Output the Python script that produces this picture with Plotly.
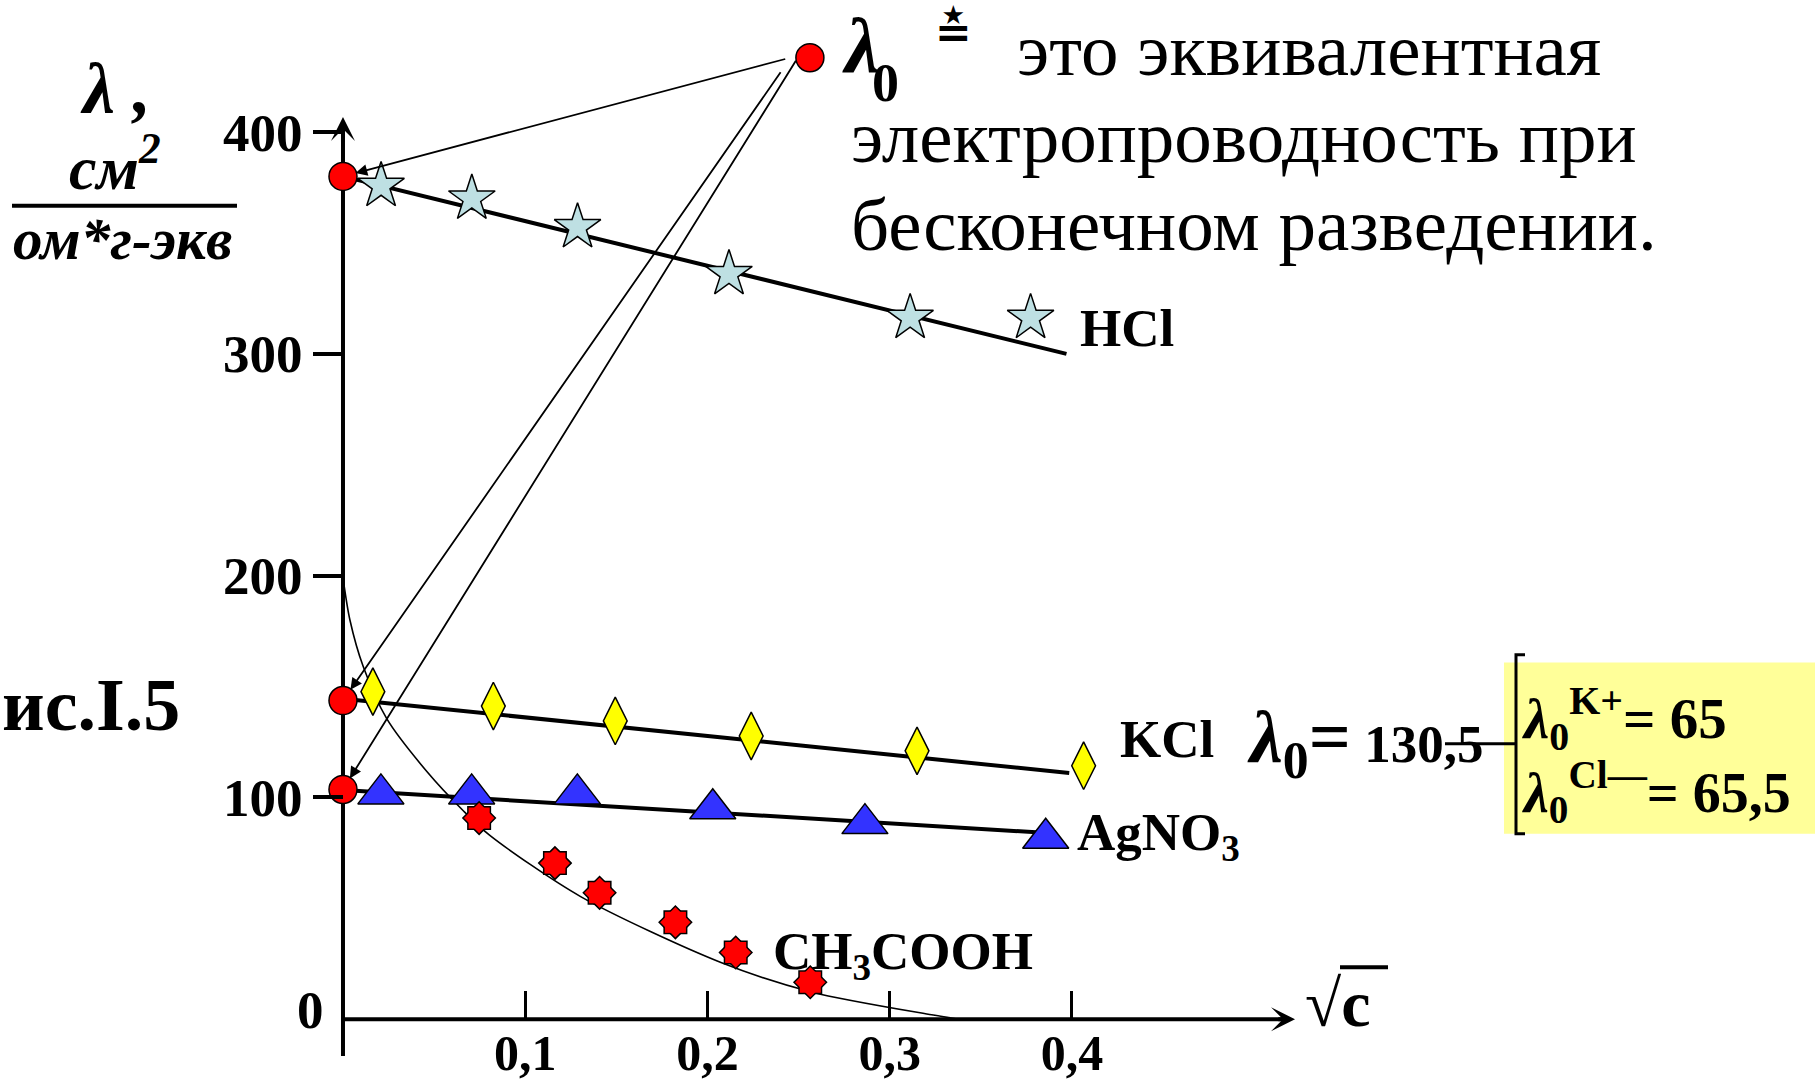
import plotly.graph_objects as go

# ---------------- data ----------------
hcl_x = [0.0209, 0.0707, 0.1287, 0.2118, 0.3112, 0.3773]
hcl_y = [375.7, 370.0, 357.1, 336.0, 316.2, 316.2]
kcl_x = [0.0164, 0.0825, 0.1494, 0.2240, 0.3150, 0.4064]
kcl_y = [147.7, 141.2, 134.5, 127.7, 121.0, 114.3]
agno3_x = [0.0208, 0.0706, 0.1286, 0.2029, 0.2864, 0.3856]
agno3_y = [101.6, 101.6, 101.6, 94.9, 88.2, 81.6]
ch3cooh_x = [0.0747, 0.1163, 0.1408, 0.1824, 0.2155, 0.2564]
ch3cooh_y = [90.7, 70.4, 57.0, 43.7, 30.1, 16.7]

# fitted straight lines (start at lambda0 on the axis)
hcl_fit_x = [0.0, 0.397]
hcl_fit_y = [380.0, 300.0]
kcl_fit_x = [0.0, 0.3985]
kcl_fit_y = [144.5, 111.0]
agno3_fit_x = [0.0, 0.3825]
agno3_fit_y = [103.3, 84.2]

# thin curve for the weak electrolyte
ch3cooh_curve_x = [0.0, 0.0038, 0.0111, 0.024, 0.0459, 0.066, 0.0804, 0.1304, 0.2074, 0.2575, 0.323, 0.338]
ch3cooh_curve_y = [199.0, 180.0, 159.0, 135.5, 111.8, 94.0, 83.0, 55.3, 25.6, 12.2, 2.0, 0.0]

# lambda0 points (HCl, KCl, AgNO3) and the explanatory point
lambda0_x = [0.0, 0.0, 0.0]
lambda0_y = [380.0, 143.7, 103.6]
legend_pt_x = [0.2562]
legend_pt_y = [433.5]
# tails of the pointer arrows (near the explanatory point)
arrow_tail_x = [0.2435, 0.2407, 0.2490]
arrow_tail_y = [433.1, 427.6, 432.8]

x_tick_vals = [0.1, 0.2, 0.3, 0.4]
x_tick_text = ["0,1", "0,2", "0,3", "0,4"]
y_tick_vals = [100, 200, 300, 400]
y_tick_text = ["100", "200", "300", "400"]
origin_label = "0"

x_axis_end = 0.5224
y_axis_top = 406.8
y_axis_bottom = -16.6

# ---------------- geometry ----------------
W, H = 1820, 1081
X_RANGE = [-0.18821, 0.81047]
Y_RANGE = [-22.43, 459.52]
FONT = "Liberation Serif"


def px(x):
    return x / W


def py(y):
    return 1 - y / H


fig = go.Figure()

line_black = dict(color="black", width=4)
fig.add_trace(go.Scatter(x=ch3cooh_curve_x, y=ch3cooh_curve_y, mode="lines",
                         line=dict(color="black", width=1.6, shape="spline", smoothing=0.8),
                         hoverinfo="skip"))
fig.add_trace(go.Scatter(x=hcl_fit_x, y=hcl_fit_y, mode="lines", line=line_black, hoverinfo="skip"))
fig.add_trace(go.Scatter(x=kcl_fit_x, y=kcl_fit_y, mode="lines", line=line_black, hoverinfo="skip"))
fig.add_trace(go.Scatter(x=agno3_fit_x, y=agno3_fit_y, mode="lines", line=line_black, hoverinfo="skip"))

outline = dict(color="black", width=1.5)
fig.add_trace(go.Scatter(x=hcl_x, y=hcl_y, mode="markers", name="HCl", cliponaxis=False,
                         marker=dict(symbol="star", size=35, color="#BEE0E3", line=outline)))
fig.add_trace(go.Scatter(x=kcl_x, y=kcl_y, mode="markers", name="KCl", cliponaxis=False,
                         marker=dict(symbol="diamond-tall", size=34, color="#FFFF00", line=outline)))
fig.add_trace(go.Scatter(x=agno3_x, y=agno3_y, mode="markers", name="AgNO3", cliponaxis=False,
                         marker=dict(symbol="triangle-up", size=40, color="#3333FF", line=outline)))
# 8-point star built from a square and a diamond
fig.add_trace(go.Scatter(x=ch3cooh_x, y=ch3cooh_y, mode="markers", name="CH3COOH", cliponaxis=False,
                         marker=dict(symbol="square", size=22, color="#FF0000",
                                     line=dict(color="black", width=2))))
fig.add_trace(go.Scatter(x=ch3cooh_x, y=ch3cooh_y, mode="markers", cliponaxis=False, showlegend=False,
                         marker=dict(symbol="diamond", size=25, color="#FF0000",
                                     line=dict(color="black", width=1.5))))
fig.add_trace(go.Scatter(x=ch3cooh_x, y=ch3cooh_y, mode="markers", cliponaxis=False, showlegend=False,
                         marker=dict(symbol="square", size=21, color="#FF0000", line=dict(width=0))))
fig.add_trace(go.Scatter(x=lambda0_x + legend_pt_x, y=lambda0_y + legend_pt_y, mode="markers",
                         cliponaxis=False,
                         marker=dict(symbol="circle", size=28, color="#FF0000", line=outline)))

shapes = []
# axes lines
shapes.append(dict(type="line", xref="x", yref="y", x0=0, x1=0, y0=y_axis_bottom, y1=y_axis_top - 3,
                   line=dict(color="black", width=4), layer="below"))
shapes.append(dict(type="line", xref="x", yref="y", x0=0, x1=x_axis_end - 0.005, y0=0, y1=0,
                   line=dict(color="black", width=4), layer="below"))
# fraction bar of the y-axis unit
shapes.append(dict(type="line", xref="paper", yref="paper", x0=px(12), x1=px(237), y0=py(208), y1=py(208),
                   line=dict(color="black", width=4)))
# yellow box
shapes.append(dict(type="rect", xref="paper", yref="paper", x0=px(1504), x1=px(1815), y0=py(843), y1=py(670),
                   fillcolor="#FFFF99", line=dict(width=0), layer="below"))
# bracket
shapes.append(dict(type="path", xref="paper", yref="paper",
                   path=f"M{px(1525)},{py(662)} L{px(1516)},{py(662)} L{px(1516)},{py(843)} L{px(1525)},{py(843)}",
                   line=dict(color="black", width=3)))
# dash joining 130,5 with bracket
shapes.append(dict(type="line", xref="paper", yref="paper", x0=px(1445), x1=px(1516), y0=py(752), y1=py(752),
                   line=dict(color="black", width=3)))
# overline of sqrt(c)
shapes.append(dict(type="line", xref="paper", yref="paper", x0=px(1340), x1=px(1388), y0=py(978), y1=py(978),
                   line=dict(color="black", width=4)))

ann = []
# axis arrowheads
ann.append(dict(x=0, y=y_axis_top, ax=0, ay=y_axis_top - 12, xref="x", yref="y", axref="x", ayref="y",
                text="", showarrow=True, arrowhead=3, arrowsize=1.0, arrowwidth=4, arrowcolor="black"))
ann.append(dict(x=x_axis_end, y=0, ax=x_axis_end - 0.01, ay=0, xref="x", yref="y", axref="x", ayref="y",
                text="", showarrow=True, arrowhead=3, arrowsize=1.0, arrowwidth=4, arrowcolor="black"))
# pointer arrows to lambda0 values
for tx, ty, hx, hy in zip(arrow_tail_x, arrow_tail_y, lambda0_x, lambda0_y):
    ann.append(dict(x=hx, y=hy, ax=tx, ay=ty, xref="x", yref="y", axref="x", ayref="y",
                    text="", showarrow=True, arrowhead=2, arrowsize=1.3, arrowwidth=1.8,
                    arrowcolor="black", standoff=13))


def txt(text, x, y, size, xanchor="left", yanchor="middle", family=FONT):
    ann.append(dict(text=text, x=px(x), y=py(y), xref="paper", yref="paper", showarrow=False,
                    xanchor=xanchor, yanchor=yanchor,
                    font=dict(family=family, size=size, color="black")))


# y-axis unit
txt("<b><i>λ ,</i></b>", 116, 90, 72, xanchor="center")
txt("<b><i>см<sup>2</sup></i></b>", 115, 165, 62, xanchor="center")
txt("<b><i>ом*г-экв</i></b>", 122, 242, 59, xanchor="center")
# explanation
txt("<b><i>λ</i></b>", 840, 46, 78)
txt("<b>0</b>", 870, 84, 54)
txt("<b>≛</b>", 953, 2, 44, xanchor="center", yanchor="top", family="DejaVu Sans")
txt("это эквивалентная", 1015, 50, 75)
txt("электропроводность при", 849, 138, 75)
txt("бесконечном разведении.", 849, 227, 75)
# figure caption (cut by the left edge in the original)
txt("<b>ис.I.5</b>", 0, 713, 74, xanchor="left")
# series labels
txt("<b>HCl</b>", 1078, 332, 53)
txt("<b>KCl</b>", 1118, 747, 53)
txt("<b>AgNO<sub>3</sub></b>", 1075, 810, 53, yanchor="top")
txt("<b>CH<sub>3</sub>COOH</b>", 771, 930, 53, yanchor="top")
# KCl lambda0 decomposition
txt("<b><i>λ</i><sub>0</sub>=</b><b><span style='font-size:53px'> 130,5</span></b>", 1245, 702, 74,
    yanchor="top")
txt("<b><i>λ</i><sub>0</sub><sup>K+</sup>= 65</b>", 1520, 684, 57, yanchor="top")
txt("<b><i>λ</i><sub>0</sub><sup>Cl—</sup>= 65,5</b>", 1520, 759, 56, yanchor="top")
# x-axis title and origin
txt("√<b>c</b>", 1303, 1015, 66)
txt("<b>" + origin_label + "</b>", 310, 1021, 53, xanchor="center")

fig.update_layout(
    width=W, height=H, margin=dict(l=0, r=0, t=0, b=0, pad=0),
    paper_bgcolor="white", plot_bgcolor="white", showlegend=False,
    shapes=shapes, annotations=ann,
    xaxis=dict(range=X_RANGE, showgrid=False, zeroline=False, showline=False,
               anchor="free", position=(0 - Y_RANGE[0]) / (Y_RANGE[1] - Y_RANGE[0]),
               tickmode="array", tickvals=x_tick_vals, ticktext=x_tick_text,
               ticks="inside", ticklen=28, tickwidth=3, tickcolor="black",
               tickfont=dict(family=FONT, size=50, color="black", weight="bold")),
    yaxis=dict(range=Y_RANGE, showgrid=False, zeroline=False, showline=False,
               anchor="free", position=(0 - X_RANGE[0]) / (X_RANGE[1] - X_RANGE[0]),
               tickmode="array", tickvals=y_tick_vals, ticktext=y_tick_text,
               ticks="outside", ticklen=30, tickwidth=4, tickcolor="black",
               tickfont=dict(family=FONT, size=53, color="black", weight="bold")),
)

fig.write_html("out.html", config={"displayModeBar": False},
               post_script="document.body.style.margin='0px';document.body.style.overflow='hidden';")
